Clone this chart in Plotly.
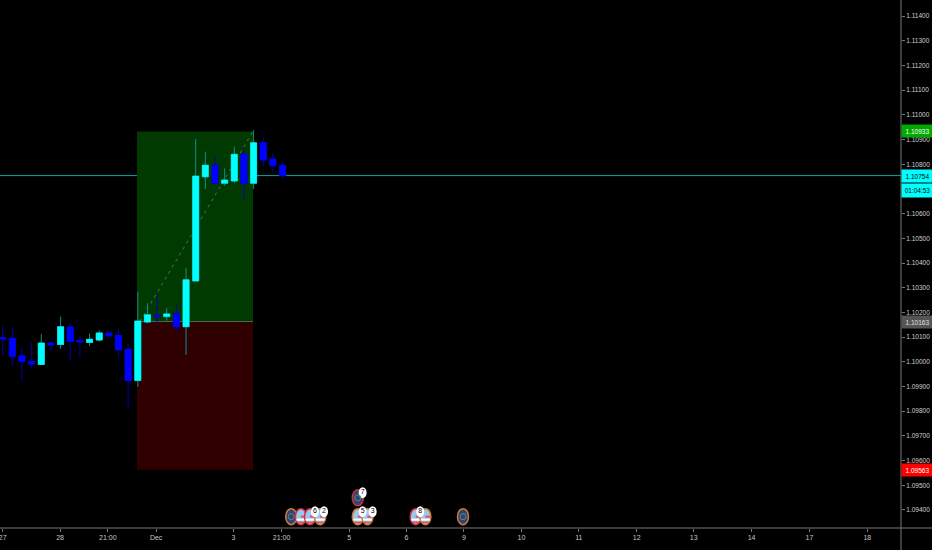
import plotly.graph_objects as go

open_ = [1.10098,1.10095,1.10024,1.10002,1.09989,1.10076,1.10070,1.10141,1.10086,1.10078,1.10088,1.10117,1.10107,1.10051,1.09924,1.10161,1.10188,1.10183,1.10194,1.10142,1.10327,1.10749,1.10796,1.10723,1.10732,1.10840,1.10723,1.10887,1.10821,1.10796]
high = [1.10145,1.10140,1.10059,1.10078,1.10113,1.10082,1.10183,1.10156,1.10105,1.10113,1.10128,1.10129,1.10134,1.10075,1.10284,1.10237,1.10271,1.10217,1.10230,1.10380,1.10902,1.10851,1.10837,1.10783,1.10871,1.10860,1.10938,1.10909,1.10847,1.10814]
low = [1.10028,1.09983,1.09924,1.09971,1.09987,1.10041,1.10053,1.10005,1.10018,1.10064,1.10082,1.10093,1.10018,1.09812,1.09899,1.10156,1.10153,1.10167,1.10116,1.10028,1.10327,1.10700,1.10723,1.10713,1.10723,1.10659,1.10700,1.10794,1.10766,1.10740]
close = [1.10093,1.10021,1.10001,1.09991,1.10076,1.10068,1.10142,1.10083,1.10080,1.10091,1.10117,1.10105,1.10048,1.09924,1.10165,1.10190,1.10183,1.10194,1.10142,1.10332,1.10752,1.10796,1.10723,1.10736,1.10840,1.10723,1.10887,1.10817,1.10794,1.10754]
bars = list(range(len(open_)))

price_ticks = [1.094 + i * 0.001 for i in range(21)]
price_labels = [f"{p:.5f}" for p in price_ticks]
time_ticks = [0, 5.95, 10.9, 15.9, 23.9, 28.9, 35.9, 41.85, 47.8, 53.75, 59.7, 65.7, 71.6, 77.6, 83.6, 89.6]
time_labels = ["27", "28", "21:00", "Dec", "3", "21:00", "5", "6", "9", "10", "11", "12", "13", "14", "17", "18"]

entry, target, stop, last = 1.10163, 1.10933, 1.09563, 1.10754
pos_start, pos_end = 13.92, 25.94
tags = [(target, "1.10933", "#00a800", "#ffffff"), (last, "1.10754", "#00ffff", "#000000"),
        (entry, "1.10163", "#555555", "#e0e0e0"), (stop, "1.09563", "#ff0000", "#ffffff")]
timer_price, timer_text = 1.10692, "01:04:53"

us_x = [30.9, 31.85, 32.9, 36.8, 37.8, 42.8, 43.8]
us_y = [1.09373] * 7
us_ring = ["#d0303a", "#d0303a", "#d07a30", "#d07a30", "#d07a30", "#d0303a", "#d07a30"]
eu_x = [29.9, 36.8, 47.7]
eu_y = [1.09373, 1.09449, 1.09373]
eu_ring = ["#d07a30", "#d0303a", "#d07a30"]
count_x = [32.36, 33.3, 37.3, 38.34, 37.3, 43.27]
count_y = [1.09393, 1.09393, 1.09393, 1.09393, 1.0947, 1.09393]
count_text = ["6", "2", "5", "3", "7", "8"]

body_top = [max(o, c) for o, c in zip(open_, close)]
body_bottom = [min(o, c) for o, c in zip(open_, close)]

fig = go.Figure()
fig.add_trace(go.Candlestick(
    x=bars, open=open_, high=high, low=low, close=close,
    increasing=dict(line=dict(color="#0b8f8f", width=1), fillcolor="#00ffff"),
    decreasing=dict(line=dict(color="#0000b0", width=1), fillcolor="#0000ff"),
    whiskerwidth=0, hoverinfo="skip", showlegend=False))
fig.add_trace(go.Candlestick(
    x=bars, open=open_, high=body_top, low=body_bottom, close=close,
    increasing=dict(line=dict(color="#00ffff", width=0.5), fillcolor="#00ffff"),
    decreasing=dict(line=dict(color="#0000ff", width=0.5), fillcolor="#0000ff"),
    whiskerwidth=0, hoverinfo="skip", showlegend=False))

shapes = [
    dict(type="rect", xref="x", yref="y", x0=pos_start, x1=pos_end, y0=entry, y1=target,
         fillcolor="#003a00", line_width=0, layer="below"),
    dict(type="rect", xref="x", yref="y", x0=pos_start, x1=pos_end, y0=stop, y1=entry,
         fillcolor="#300000", line_width=0, layer="below"),
    dict(type="line", xref="x", yref="y", x0=pos_start, x1=pos_end, y0=entry, y1=entry,
         line=dict(color="#4f6a4f", width=1), layer="below"),
    dict(type="line", xref="x", yref="y", x0=pos_start + 0.3, x1=pos_end, y0=entry, y1=target,
         line=dict(color="#5a6f5a", width=1, dash="3px,4px"), layer="below"),
    dict(type="line", xref="paper", yref="y", x0=0, x1=1, y0=last, y1=last,
         line=dict(color="#00a8a8", width=1), layer="below"),
    dict(type="line", xref="paper", yref="paper", x0=1, x1=1, y0=-0.0417, y1=1,
         line=dict(color="#787878", width=1)),
    dict(type="line", xref="paper", yref="paper", x0=0, x1=1.0344, y0=0, y1=0,
         line=dict(color="#787878", width=1)),
]

def pixel_shape(kind, x, y, x0, x1, y0, y1, fill, line=None, lw=0):
    return dict(type=kind, xref="x", yref="y", xsizemode="pixel", ysizemode="pixel",
                xanchor=x, yanchor=y, x0=x0, x1=x1, y0=y0, y1=y1, fillcolor=fill,
                line=dict(color=line or fill, width=lw), layer="below")

icons = []
for x, y, ring in zip(us_x, us_y, us_ring):
    icons.append((x, "us", y, ring))
for x, y, ring in zip(eu_x, eu_y, eu_ring):
    icons.append((x, "eu", y, ring))
icons.sort(key=lambda item: item[0])
for x, kind, y, ring in icons:
    fill = "#9cc6f2" if kind == "us" else "#27467f"
    shapes.append(pixel_shape("circle", x, y, -5.5, 5.5, -8, 8, fill, ring, 1.5))
    if kind == "us":
        shapes.append(pixel_shape("rect", x, y, -4.5, 4.5, -2, -4, "#ffffff"))
        shapes.append(pixel_shape("rect", x, y, 0, 4.5, -1, 1, "#e05050"))
        shapes.append(pixel_shape("rect", x, y, -3.5, 3.5, -5, -6.5, "#e05050"))
for x, y in zip(count_x, count_y):
    shapes.append(pixel_shape("circle", x, y, -4, 4, -5.5, 5.5, "#ffffff"))

fig.add_trace(go.Scatter(x=eu_x, y=eu_y, mode="markers", hoverinfo="skip", showlegend=False,
                         marker=dict(symbol="circle-open", size=6, color="#7f7f55", line=dict(width=1))))
fig.add_trace(go.Scatter(x=count_x, y=count_y, mode="text", text=count_text, hoverinfo="skip",
                         showlegend=False, textposition="middle center",
                         textfont=dict(family="Liberation Sans", size=7, color="#000000")))

annotations = [dict(xref="paper", yref="y", x=1, y=p, text=t, xanchor="left", yanchor="middle",
                    showarrow=False, bgcolor=bg, width=31, height=12, borderpad=0, align="center",
                    font=dict(family="Liberation Sans", size=6.5, color=fg))
               for p, t, bg, fg in tags]
annotations.append(dict(xref="paper", yref="y", x=1, y=timer_price, text=timer_text, xanchor="left",
                        yanchor="middle", showarrow=False, bgcolor="#00ffff", width=31, height=13,
                        borderpad=0, align="center",
                        font=dict(family="Liberation Sans", size=6.5, color="#000000")))

# the 1.10700 tick sits behind the countdown box in the reference: leave its label blank
price_labels[13] = ""

fig.update_layout(
    width=932, height=550, autosize=False,
    paper_bgcolor="#000000", plot_bgcolor="#000000",
    margin=dict(l=0, r=31, t=0, b=22), showlegend=False,
    shapes=shapes, annotations=annotations, boxgap=0.37, boxgroupgap=0,
    xaxis=dict(range=[-0.28, 93.09], rangeslider=dict(visible=False), showgrid=False, zeroline=False,
               tickmode="array", tickvals=time_ticks, ticktext=time_labels, ticks="outside",
               ticklen=3, tickcolor="#787878", tickwidth=1, ticklabeloverflow="allow",
               tickfont=dict(family="Liberation Sans", size=7, color="#c8c8c8"), showline=False),
    yaxis=dict(range=[1.09327, 1.11465], side="right", showgrid=False, zeroline=False,
               tickmode="array", tickvals=price_ticks, ticktext=price_labels, ticks="outside",
               ticklen=3, tickcolor="#787878", tickwidth=1,
               tickfont=dict(family="Liberation Sans", size=6.5, color="#d0d0d0"), showline=False),
)
fig.write_html("out.html", config={"displayModeBar": False},
               post_script="document.body.style.margin='0';document.body.style.background='#000';document.body.style.overflow='hidden';")
